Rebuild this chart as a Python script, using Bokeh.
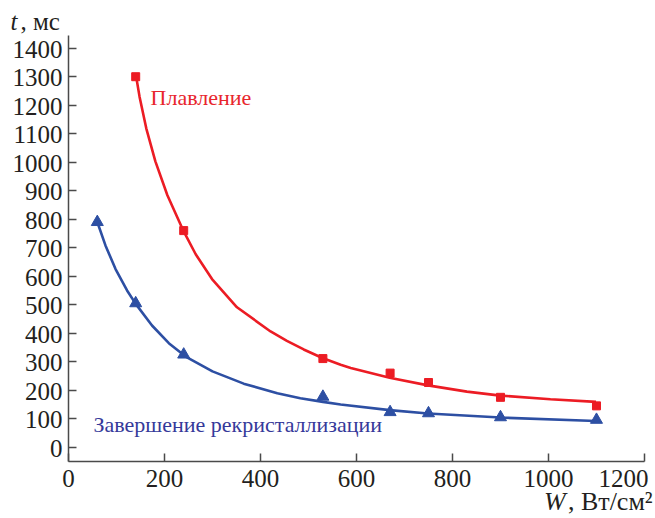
from bokeh.plotting import figure
from bokeh.models import Label, LabelSet, FixedTicker, Range1d, ColumnDataSource
from bokeh.embed import file_html
from bokeh.resources import INLINE

# Measured points
melt_x = [140, 240, 530, 670, 750, 900, 1100]
melt_y = [1300, 760, 311, 260, 227, 175, 145]
rec_x = [60, 140, 240, 530, 670, 750, 900, 1100]
rec_y = [790, 505, 325, 177, 123, 119, 105, 96]

# Fitted curves
melt_fit_x = [141, 148, 162, 181, 206, 240, 265, 299, 351, 421, 455, 490, 529, 567, 588, 669, 749, 830, 900, 1004, 1099]
melt_fit_y = [1300, 1230, 1119, 1003, 884, 757, 677, 590, 491, 406, 373, 343, 313, 289, 278, 244, 217, 195, 181, 168, 159]
rec_fit_x = [60, 77, 98, 122, 140, 174, 209, 244, 300, 365, 435, 483, 530, 567, 669, 749, 900, 1099]
rec_fit_y = [790, 708, 625, 550, 503, 427, 365, 318, 266, 223, 189, 172, 159, 150, 130, 118, 104, 92]

x_ticks = [0, 200, 400, 600, 800, 1000, 1200]
y_ticks = [0, 100, 200, 300, 400, 500, 600, 700, 800, 900, 1000, 1100, 1200, 1300, 1400]
x_tick_labels = [str(v) for v in x_ticks]
y_tick_labels = [str(v) for v in y_ticks]

X_AXIS_BOUNDS = (0, 1200)
Y_AXIS_BOUNDS = (-50, 1445)

RED = "#ec1c24"
BLUE = "#2d4fa3"
RED_TXT = "#e8262d"
BLUE_TXT = "#35399a"
FONT = "Liberation Serif"
AX = "#4a4a4a"
TXT = "#231f20"
TICK_FS = "25px"

p = figure(frame_width=655, frame_height=518, output_backend="svg", toolbar_location=None,
           x_range=Range1d(-141.67, 1222.92), y_range=Range1d(-250.2, 1567.4),
           min_border_left=0, min_border_right=0, min_border_top=0, min_border_bottom=0)
p.outline_line_color = None
p.grid.visible = False
p.background_fill_color = "white"
p.border_fill_color = "white"

p.xaxis[0].fixed_location = Y_AXIS_BOUNDS[0]
p.yaxis[0].fixed_location = X_AXIS_BOUNDS[0]
p.xaxis[0].bounds = X_AXIS_BOUNDS
p.yaxis[0].bounds = Y_AXIS_BOUNDS
for ax in (p.xaxis[0], p.yaxis[0]):
    ax.axis_line_color = AX
    ax.axis_line_width = 1.5
    ax.major_tick_line_color = AX
    ax.major_tick_line_width = 1.5
    ax.major_tick_in = 8
    ax.major_tick_out = 0
    ax.minor_tick_line_color = None
    ax.major_label_text_font_size = "0px"
    ax.major_label_text_color = None
    ax.major_label_standoff = 0
p.xaxis[0].ticker = FixedTicker(ticks=x_ticks)
p.yaxis[0].ticker = FixedTicker(ticks=y_ticks)

# tick labels
ysrc = ColumnDataSource(dict(x=[X_AXIS_BOUNDS[0]] * len(y_ticks), y=y_ticks, t=y_tick_labels))
p.add_layout(LabelSet(x="x", y="y", text="t", source=ysrc, x_offset=-6, y_offset=-1,
                      text_align="right", text_baseline="middle",
                      text_font=FONT, text_font_size=TICK_FS, text_color=TXT))
xsrc = ColumnDataSource(dict(x=x_ticks[:-1], y=[Y_AXIS_BOUNDS[0]] * (len(x_ticks) - 1), t=x_tick_labels[:-1]))
p.add_layout(LabelSet(x="x", y="y", text="t", source=xsrc, y_offset=-17,
                      text_align="center", text_baseline="middle",
                      text_font=FONT, text_font_size=TICK_FS, text_color=TXT))
p.add_layout(Label(x=x_ticks[-1], y=Y_AXIS_BOUNDS[0], text=x_tick_labels[-1], x_offset=4, y_offset=-17,
                   text_align="right", text_baseline="middle",
                   text_font=FONT, text_font_size=TICK_FS, text_color=TXT))

p.line(melt_fit_x, melt_fit_y, line_color=RED, line_width=2.6)
p.line(rec_fit_x, rec_fit_y, line_color=BLUE, line_width=2.6)
p.scatter(melt_x, melt_y, marker="square", size=8, fill_color=RED, line_color=RED)
p.scatter(rec_x, rec_y, marker="triangle", size=12, fill_color=BLUE, line_color=BLUE)

# axis titles
p.add_layout(Label(x=-120.8, y=1494, text="t", text_font=FONT, text_font_style="italic",
                   text_font_size=TICK_FS, text_color=TXT, text_baseline="alphabetic"))
p.add_layout(Label(x=-100, y=1494, text=", мс", text_font=FONT,
                   text_font_size=TICK_FS, text_color=TXT, text_baseline="alphabetic"))
p.add_layout(Label(x=1036, y=-192, text="W", text_font=FONT, text_font_style="italic", text_align="right",
                   text_font_size="26px", text_color=TXT, text_baseline="alphabetic"))
p.add_layout(Label(x=1217, y=-192, text=", Вт/см²", text_font=FONT, text_align="right",
                   text_font_size="26px", text_color=TXT, text_baseline="alphabetic"))

# series labels
p.add_layout(Label(x=171, y=1227, text="Плавление", text_font=FONT, text_font_size="22px",
                   text_color=RED_TXT, text_baseline="alphabetic"))
p.add_layout(Label(x=52, y=78, text="Завершение рекристаллизации", text_font=FONT, text_font_size="22px",
                   text_color=BLUE_TXT, text_baseline="alphabetic"))

open("out.html", "w").write(file_html(p, INLINE))
